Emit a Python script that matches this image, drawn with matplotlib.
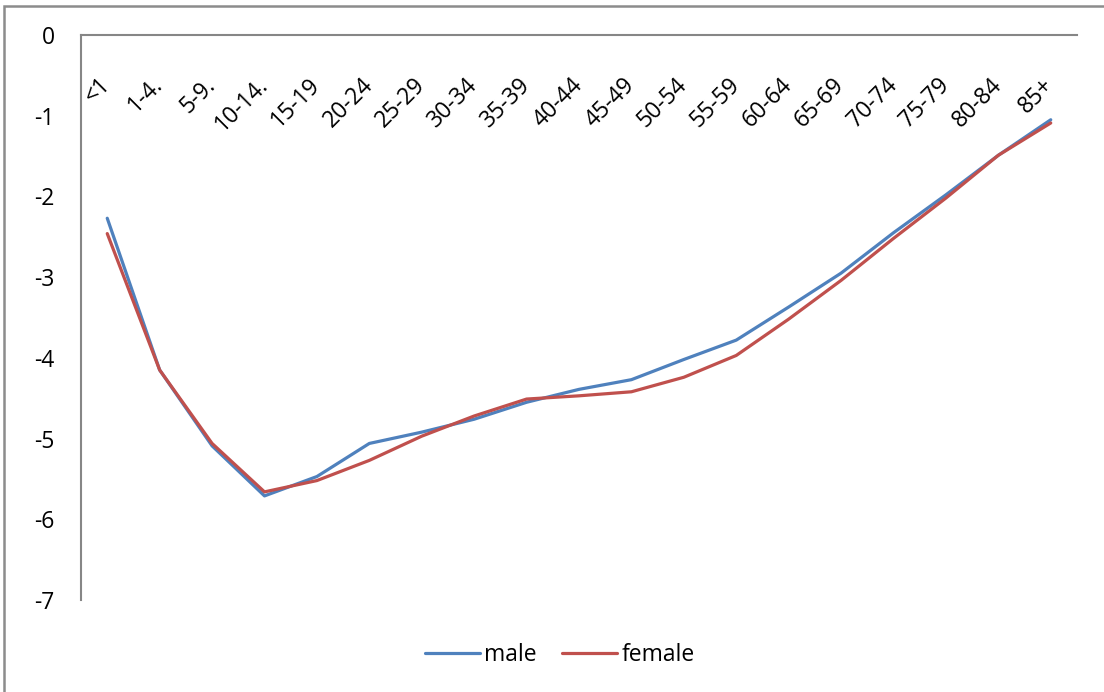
import matplotlib.pyplot as plt
import matplotlib.patches as mpatches
import numpy as np

plt.rcParams["font.family"] = ["Open Sans", "DejaVu Sans"]
plt.rcParams["axes.unicode_minus"] = False

age_groups = ["<1", "1-4.", "5-9.", "10-14.", "15-19", "20-24", "25-29", "30-34",
              "35-39", "40-44", "45-49", "50-54", "55-59", "60-64", "65-69",
              "70-74", "75-79", "80-84", "85+"]
male = [-2.27, -4.15, -5.09, -5.71, -5.47, -5.06, -4.92, -4.76, -4.55, -4.39,
        -4.27, -4.02, -3.78, -3.37, -2.95, -2.45, -1.98, -1.49, -1.05]
female = [-2.46, -4.15, -5.06, -5.66, -5.52, -5.27, -4.97, -4.72, -4.51, -4.47,
          -4.42, -4.24, -3.97, -3.52, -3.04, -2.52, -2.02, -1.49, -1.09]
y_ticks = [0, -1, -2, -3, -4, -5, -6, -7]

fig = plt.figure(figsize=(11.04, 6.92), dpi=100)
ax = fig.add_axes([0.0734, 0.1329, 0.9021, 0.8165])

x = np.arange(len(age_groups))
ax.plot(x, male, color="#4F81BD", lw=2.3, label="male", solid_capstyle="round")
ax.plot(x, female, color="#C0504D", lw=2.3, label="female", solid_capstyle="round")

ax.set_xlim(-0.5, len(age_groups) - 0.5)
ax.set_ylim(-7, 0)

# category axis sits at y=0 (top), labels hang down inside the plot
ax.set_xticks(x)
ax.set_xticklabels(age_groups)
ax.tick_params(axis="x", top=False, bottom=False, labeltop=True,
               labelbottom=False, pad=-37, labelsize=16.5)
for lbl in ax.get_xticklabels():
    lbl.set_rotation(45)
    lbl.set_ha("right")
    lbl.set_va("center")
    lbl.set_rotation_mode("anchor")

ax.set_yticks(y_ticks)
ax.tick_params(axis="y", length=0, pad=19, labelsize=16.5)

for side in ["right", "bottom"]:
    ax.spines[side].set_visible(False)
for side in ["left", "top"]:
    ax.spines[side].set_color("#868686")
    ax.spines[side].set_linewidth(1.5)

fig.legend(loc="center", bbox_to_anchor=(0.507, 0.0535), ncol=2, frameon=False,
           fontsize=16.5, handlelength=2.4, handletextpad=0.2, columnspacing=1.1)

# chart border
fig.patches.append(mpatches.Rectangle((0.004, -0.1), 1.2, 1.0913, transform=fig.transFigure,
                                      fill=False, edgecolor="#8c8c8c", lw=1.8))

fig.savefig("out.png", dpi=100)
